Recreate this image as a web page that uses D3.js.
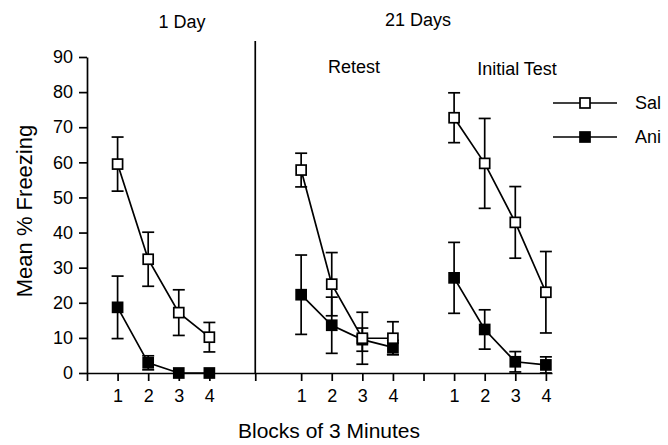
<!DOCTYPE html>
<html>
<head>
<meta charset="utf-8">
<script src="https://cdn.jsdelivr.net/npm/d3@7"></script>
<style>
  body { margin: 0; background: #fff; }
  svg { font-family: "Liberation Sans", Arial, sans-serif; }
  .axis path, .axis line { stroke: #000; stroke-width: 1.7px; }
  .axis text { font-size: 18px; fill: #000; }
</style>
</head>
<body>
<svg id="chart"></svg>
<script>
// Blocks of 3 minutes within each test
const blocks = [1, 2, 3, 4];
const groupNames = ['1 Day', 'Retest', 'Initial Test'];
const yTicks = [0, 10, 20, 30, 40, 50, 60, 70, 80, 90];

// Mean % freezing (one row per group) and error bars
const salMean = [[59.5, 32.4, 17.2, 10.2], [57.8, 25.3, 9.9, 9.9], [72.7, 59.7, 42.9, 23.0]];
const salErr  = [[7.7, 7.7, 6.5, 4.2], [4.8, 9.0, 7.4, 4.7], [7.1, 12.8, 10.2, 11.6]];
const aniMean = [[18.7, 2.9, 0, 0], [22.3, 13.6, 9.5, 7.3], [27.1, 12.4, 3.2, 2.3]];
const aniErr  = [[8.9, 2.0, 0, 0], [11.3, 8.0, 3.3, 2.0], [10.1, 5.6, 2.9, 2.3]];

class FreezingChart {
  constructor(_config) {
    this.config = {
      parentElement: _config.parentElement,
      containerWidth: _config.containerWidth || 668,
      containerHeight: _config.containerHeight || 445,
      margin: _config.margin || {top: 57, right: 116, bottom: 72, left: 87},
      strokeWidth: _config.strokeWidth || 1.7
    }
    this.initVis();
  }

  initVis() {
    let vis = this;
    let m = vis.config.margin;

    vis.width = vis.config.containerWidth - m.left - m.right;
    vis.height = vis.config.containerHeight - m.top - m.bottom;

    // x positions of each group's first block on the shared axis
    vis.groupOffset = [0, 6, 11];
    vis.dividerPos = 5.5;

    vis.xScale = d3.scaleLinear()
        .domain([0, 15.2])
        .range([0, 465]);

    vis.yScale = d3.scaleLinear()
        .domain([0, 90])
        .range([vis.height, 0]);

    vis.svg = d3.select(vis.config.parentElement)
        .attr('width', vis.config.containerWidth)
        .attr('height', vis.config.containerHeight);

    vis.chart = vis.svg.append('g')
        .attr('transform', `translate(${m.left},${m.top})`);

    vis.renderVis();
  }

  renderVis() {
    let vis = this;
    let sw = vis.config.strokeWidth;

    let tickVals = [0, vis.dividerPos];
    let labelFor = {};
    vis.groupOffset.forEach(off => blocks.forEach(b => { tickVals.push(off + b); labelFor[off + b] = b; }));
    tickVals.push(11);

    let xAxis = d3.axisBottom(vis.xScale)
        .tickValues(tickVals)
        .tickSizeOuter(0)
        .tickSizeInner(8)
        .tickPadding(8)
        .tickFormat(d => labelFor[d] || '');

    let yAxis = d3.axisLeft(vis.yScale)
        .tickValues(yTicks)
        .tickSizeOuter(0)
        .tickSizeInner(8)
        .tickPadding(6);

    vis.chart.append('g')
        .attr('class', 'axis y-axis')
        .call(yAxis);

    vis.chart.append('g')
        .attr('class', 'axis x-axis')
        .attr('transform', `translate(0,${vis.height})`)
        .call(xAxis);

    // divider between 1 Day and 21 Days
    vis.chart.append('line')
        .attr('x1', vis.xScale(vis.dividerPos))
        .attr('x2', vis.xScale(vis.dividerPos))
        .attr('y1', -16)
        .attr('y2', vis.height)
        .attr('stroke', '#000')
        .attr('stroke-width', sw);

    let series = [
      {name: 'Ani', mean: aniMean, err: aniErr, fill: '#000'},
      {name: 'Sal', mean: salMean, err: salErr, fill: '#fff'}
    ];

    let line = d3.line()
        .x(d => vis.xScale(d.x))
        .y(d => vis.yScale(d.y));

    series.forEach(s => {
      s.mean.forEach((row, gi) => {
        let pts = row.map((v, i) => ({x: vis.groupOffset[gi] + blocks[i], y: v, e: s.err[gi][i]}));

        vis.chart.append('path')
            .datum(pts)
            .attr('d', line)
            .attr('fill', 'none')
            .attr('stroke', '#000')
            .attr('stroke-width', sw);

        let eb = vis.chart.selectAll(null)
            .data(pts.filter(d => d.e > 0))
          .join('g')
            .attr('stroke', '#000')
            .attr('stroke-width', sw);
        eb.append('line')
            .attr('x1', d => vis.xScale(d.x)).attr('x2', d => vis.xScale(d.x))
            .attr('y1', d => vis.yScale(d.y - d.e)).attr('y2', d => vis.yScale(d.y + d.e));
        eb.append('line')
            .attr('x1', d => vis.xScale(d.x) - 6).attr('x2', d => vis.xScale(d.x) + 6)
            .attr('y1', d => vis.yScale(d.y + d.e)).attr('y2', d => vis.yScale(d.y + d.e));
        eb.append('line')
            .attr('x1', d => vis.xScale(d.x) - 6).attr('x2', d => vis.xScale(d.x) + 6)
            .attr('y1', d => vis.yScale(d.y - d.e)).attr('y2', d => vis.yScale(d.y - d.e));
      });
    });

    series.forEach(s => {
      s.mean.forEach((row, gi) => {
        vis.chart.selectAll(null)
            .data(row.map((v, i) => ({x: vis.groupOffset[gi] + blocks[i], y: v})))
          .join('rect')
            .attr('x', d => vis.xScale(d.x) - 5)
            .attr('y', d => vis.yScale(d.y) - 5)
            .attr('width', 10)
            .attr('height', 10)
            .attr('fill', s.fill)
            .attr('stroke', '#000')
            .attr('stroke-width', sw);
      });
    });

    // titles
    let titles = [
      {t: '1 Day', x: 182, y: 28},
      {t: '21 Days', x: 418, y: 26},
      {t: groupNames[1], x: 354, y: 73},
      {t: groupNames[2], x: 517, y: 75}
    ];
    vis.svg.selectAll('.title')
        .data(titles)
      .join('text')
        .attr('class', 'title')
        .attr('x', d => d.x)
        .attr('y', d => d.y)
        .attr('text-anchor', 'middle')
        .style('font-size', '18px')
        .text(d => d.t);

    vis.svg.append('text')
        .attr('transform', 'translate(32,211) rotate(-90)')
        .attr('text-anchor', 'middle')
        .style('font-size', '22px')
        .text('Mean % Freezing');

    vis.svg.append('text')
        .attr('x', 329)
        .attr('y', 438)
        .attr('text-anchor', 'middle')
        .style('font-size', '21px')
        .text('Blocks of 3 Minutes');

    // legend
    let legend = vis.svg.selectAll('.legend')
        .data(series.slice().reverse())
      .join('g')
        .attr('class', 'legend')
        .attr('transform', (d, i) => `translate(553,${103 + i * 34})`);
    legend.append('line')
        .attr('x1', 0).attr('x2', 64)
        .attr('stroke', '#000').attr('stroke-width', sw);
    legend.append('rect')
        .attr('x', 27).attr('y', -5).attr('width', 10).attr('height', 10)
        .attr('fill', d => d.fill)
        .attr('stroke', '#000').attr('stroke-width', sw);
    legend.append('text')
        .attr('x', 82).attr('y', 6)
        .style('font-size', '18px')
        .text(d => d.name);
  }
}

new FreezingChart({parentElement: '#chart'});
</script>
</body>
</html>
